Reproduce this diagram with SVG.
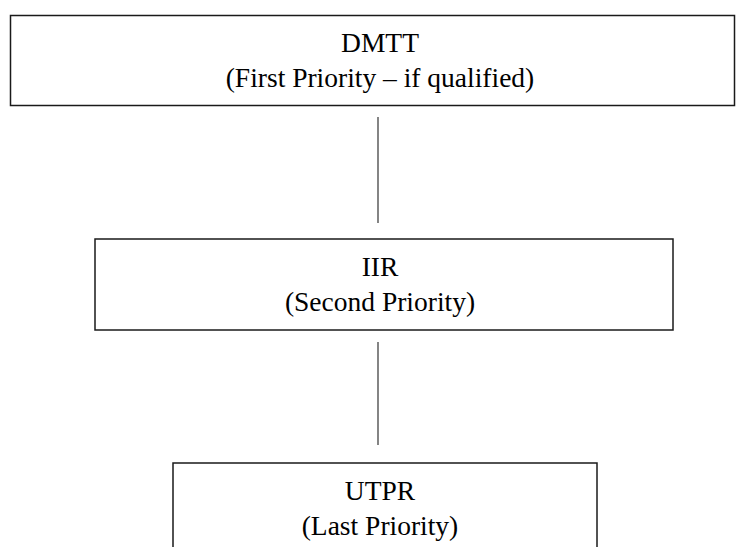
<svg xmlns="http://www.w3.org/2000/svg" width="736" height="547" viewBox="0 0 736 547">
<style>
.box{fill:#fff;stroke:#1a1a1a;stroke-width:1.5}
.t{font-family:'Liberation Serif','DejaVu Serif',serif;font-size:27.5px;fill:#000;text-anchor:middle}
.c{stroke:#333;stroke-width:1.2;fill:none}
</style>
<rect width="736" height="547" fill="#fff"/>
<g id="connectors">
<line class="c" x1="378" y1="117" x2="378" y2="223"/>
<line class="c" x1="378" y1="342" x2="378" y2="445"/>
</g>
<g id="dmtt">
<rect class="box" x="10.5" y="15.5" width="724" height="90"/>
<text class="t" x="380" y="52">DMTT</text>
<text class="t" x="380" y="87">(First Priority – if qualified)</text>
</g>
<g id="iir">
<rect class="box" x="95" y="239" width="578" height="91"/>
<text class="t" x="380" y="276">IIR</text>
<text class="t" x="380" y="311">(Second Priority)</text>
</g>
<g id="utpr">
<rect class="box" x="173" y="463" width="424" height="100"/>
<text class="t" x="380" y="500">UTPR</text>
<text class="t" x="380" y="535">(Last Priority)</text>
</g>
</svg>
